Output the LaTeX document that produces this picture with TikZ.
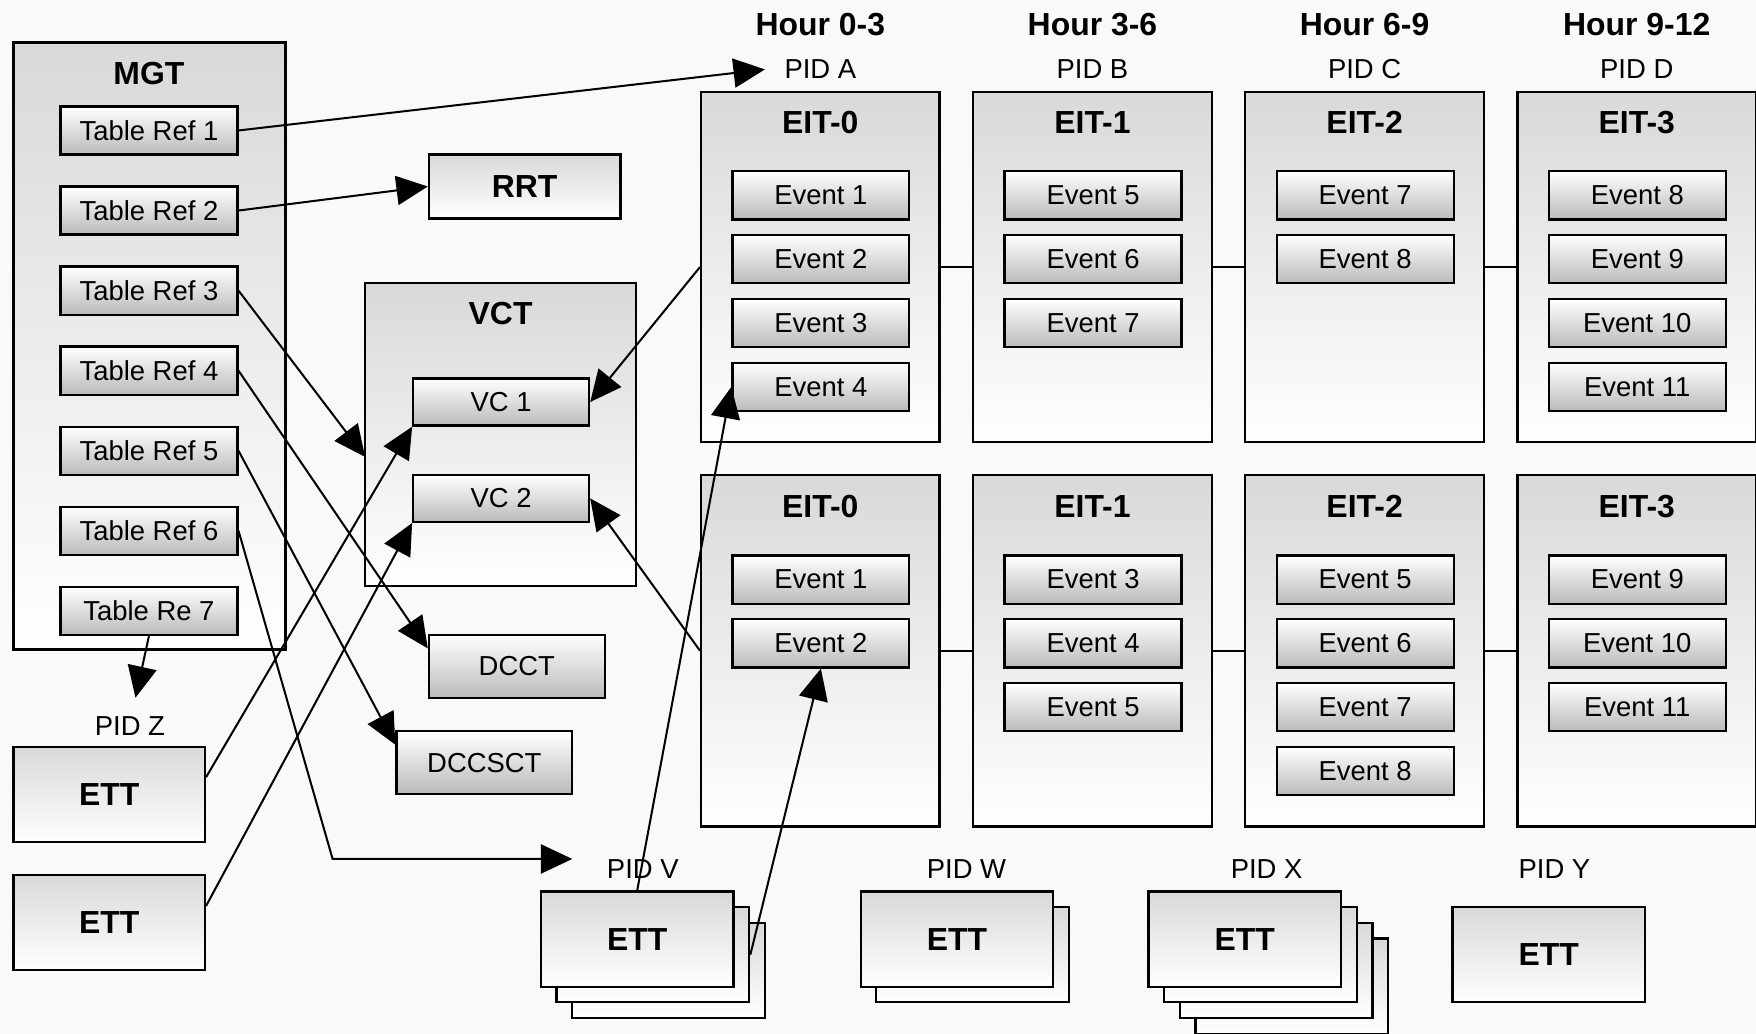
\documentclass[tikz,border=0pt]{standalone}
\usepackage{fontspec}
\setmainfont{Liberation Sans}
\usetikzlibrary{arrows.meta,calc}
\newcommand\regf{\fontsize{24.5}{25}\selectfont}
\newcommand\bldf{\fontsize{28.5}{30}\selectfont\bfseries}
\begin{document}
\begin{tikzpicture}[x=1pt,y=-1pt,
  cont/.style={draw, line width=2pt, top color=gray!30, bottom color=white, inner sep=0pt, rectangle},
  item/.style={draw, line width=2pt, top color=white, bottom color=black!27, inner sep=0pt, rectangle,
               minimum width=158pt, minimum height=43pt, font=\regf},
  ettbox/.style={cont, minimum width=172pt, minimum height=85pt, font=\bldf},
  lbl/.style={font=\regf, inner sep=0pt},
  ttl/.style={font=\bldf, inner sep=0pt},
  arr/.style={line width=1.8pt, -{Triangle[length=28pt,width=26pt]}},
  link/.style={line width=2pt}]
\fill[gray!5] (0,0) rectangle (1568,923);
\useasboundingbox (0,0) rectangle (1568,923);

% ---------------- MGT ----------------
\node[cont, minimum width=243pt, minimum height=542pt] (mgt) at (133.5,309) {};
\node[ttl] (mgtT) at (133,66) {MGT};
\node[item] (tr1) at (133,116.5) {Table Ref 1};
\node[item] (tr2) at (133,188)   {Table Ref 2};
\node[item] (tr3) at (133,259.5) {Table Ref 3};
\node[item] (tr4) at (133,331)   {Table Ref 4};
\node[item] (tr5) at (133,402.5) {Table Ref 5};
\node[item] (tr6) at (133,474)   {Table Ref 6};
\node[item] (tr7) at (133,545.5) {Table Re 7};

% ---------------- RRT ----------------
\node[cont, minimum width=171pt, minimum height=57pt, font=\bldf] (rrt) at (468.5,166.5) {RRT};

% ---------------- VCT ----------------
\node[cont, minimum width=242pt, minimum height=270pt] (vct) at (447,388) {};
\node[ttl] (vctT) at (447,280) {VCT};
\node[item, minimum width=157pt, minimum height=42pt] (vc1) at (447.5,359) {VC 1};
\node[item, minimum width=157pt, minimum height=42pt] (vc2) at (447.5,445) {VC 2};

% ---------------- DCCT / DCCSCT ----------------
\node[item, minimum width=157pt, minimum height=56pt] (dcct) at (461.5,595) {DCCT};
\node[item, minimum width=157pt, minimum height=56pt] (dccsct) at (432.5,681) {DCCSCT};

% ---------------- left ETTs ----------------
\node[lbl] (pidZ) at (116,648) {PID Z};
\node[ettbox, minimum width=171pt] (ett1) at (97.5,709.5) {ETT};
\node[ettbox, minimum width=171pt] (ett2) at (97.5,823.5) {ETT};

% ---------------- EIT grid ----------------
\foreach \c/\h/\p in {0/{Hour 0-3}/A, 1/{Hour 3-6}/B, 2/{Hour 6-9}/C, 3/{Hour 9-12}/D}{
  \pgfmathsetmacro\xc{626+243*\c+106.5}
  \node[ttl] (hour\c) at (\xc,22) {\h};
  \node[lbl] (pid\p) at (\xc,62) {PID \p};
  \node[cont, minimum width=213pt, minimum height=313pt] (eitT\c) at (\xc,238.5) {};
  \node[ttl] (eitTt\c) at (\xc,109) {EIT-\c};
  \node[cont, minimum width=213pt, minimum height=314pt] (eitB\c) at (\xc,581) {};
  \node[ttl] (eitBt\c) at (\xc,452) {EIT-\c};
}
\foreach \c/\lst in {0/{1,2,3,4}, 1/{5,6,7}, 2/{7,8}, 3/{8,9,10,11}}{
  \pgfmathsetmacro\xc{626+243*\c+107}
  \foreach \e [count=\i from 0] in \lst {
    \node[item] (evT\c-\i) at (\xc,174.5+57*\i) {Event \e};
  }
}
\foreach \c/\lst in {0/{1,2}, 1/{3,4,5}, 2/{5,6,7,8}, 3/{9,10,11}}{
  \pgfmathsetmacro\xc{626+243*\c+107}
  \foreach \e [count=\i from 0] in \lst {
    \node[item] (evB\c-\i) at (\xc,517.5+57*\i) {Event \e};
  }
}
\foreach \a/\b in {0/1, 1/2, 2/3}{
  \draw[link] (eitT\a.east) -- (eitT\b.west);
  \draw[link] (eitB\a.east) -- (eitB\b.west);
}

% ---------------- bottom ETT stacks ----------------
\node[lbl] (pidV) at (574,776) {PID V};
\node[lbl] (pidW) at (863,776) {PID W};
\node[lbl] (pidX) at (1131,776) {PID X};
\node[lbl] (pidY) at (1388,776) {PID Y};
\foreach \k in {2,1}{
  \node[ettbox] (ettV\k) at (569+14*\k,838.5+14*\k) {};
}
\node[ettbox] (ettV0) at (569,838.5) {ETT};
\node[ettbox] (ettW1) at (868.5,852.5) {};
\node[ettbox] (ettW0) at (854.5,838.5) {ETT};
\foreach \k in {3,2,1}{
  \node[ettbox] (ettX\k) at (1111.5+14*\k,838.5+14*\k) {};
}
\node[ettbox] (ettX0) at (1111.5,838.5) {ETT};
\node[ettbox] (ettY) at (1383,852.5) {ETT};

% ---------------- connectors ----------------
\coordinate (tipA) at (683,62);
\coordinate (vctin) at (326,408);
\coordinate (bend6) at (297,767);
\coordinate (tipV) at (511,767);
\coordinate (tipZ) at (121,623);
\draw[arr] (tr1.east) -- (tipA);
\draw[arr] (tr2.east) -- (rrt.west);
\draw[arr] (tr3.east) -- (vctin);
\draw[arr] (tr4.east) -- ($(dcct.north west)+(0,13)$);
\draw[arr] (tr5.east) -- ($(dccsct.north west)+(0,13)$);
\draw[arr] (tr6.east) -- (bend6) -- (tipV);
\draw[arr] (tr7.south) -- (tipZ);
\draw[arr] ($(ett1.north east)+(0,28)$) -- (vc1.south west);
\draw[arr] ($(ett2.north east)+(0,29)$) -- (vc2.south west);
\draw[arr] (eitT0.west) -- (vc1.east);
\draw[arr] (eitB0.west) -- (vc2.east);
\draw[arr] (ettV0.north) -- (evT0-3.west);
\draw[arr] (ettV1.east) -- (evB0-1.south);
\end{tikzpicture}
\end{document}
